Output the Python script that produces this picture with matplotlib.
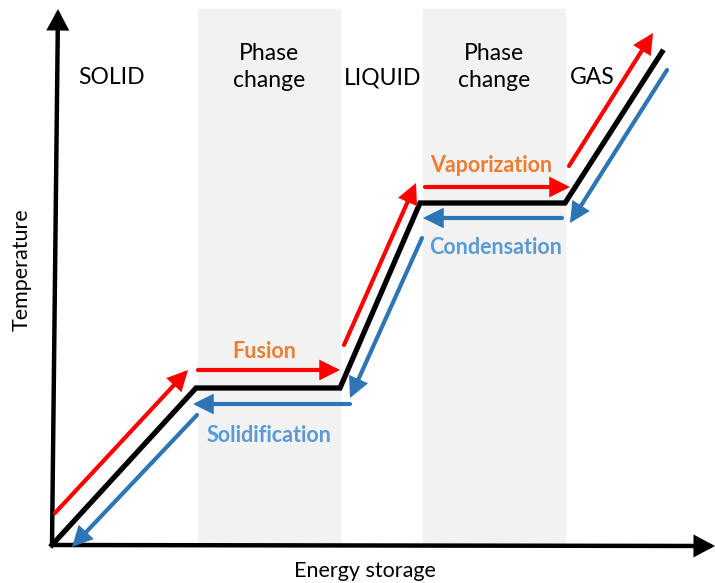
import matplotlib

matplotlib.use("Agg")
import matplotlib.pyplot as plt

# energy / temperature coordinates of the heating curve (arbitrary units)
curve_e = [0, 144, 288, 368, 513, 610]
curve_t = [0, 157, 157, 342, 342, 493]

# phase change bands (energy ranges)
bands = [(146, 288), (371, 513)]

# heating arrows (red) and cooling arrows (blue): (e0, t0, e1, t1)
heat_arrows = [
    (3, 32, 136, 175),
    (146, 175, 288, 175),
    (292, 200, 364, 362),
    (373, 358, 518, 358),
    (517, 379, 601, 512),
]
cool_arrows = [
    (615, 475, 518, 322),
    (510, 327, 371, 327),
    (370, 307, 298, 147),
    (298, 141, 141, 141),
    (145, 130, 20, -2),
]

phase_labels = ["SOLID", "Phase\nchange", "LIQUID", "Phase\nchange", "GAS"]
phase_label_e = [60, 217, 331, 442, 540]
phase_label_t = [467, 478, 467, 478, 467]
heat_labels = ["Fusion", "Vaporization"]
heat_label_pos = [(212, 193), (439, 380)]
cool_labels = ["Solidification", "Condensation"]
cool_label_pos = [(217, 110), (444, 297)]

RED = "#FF0000"
BLUE = "#2E75B6"
ORANGE = "#ED7D31"
LIGHTBLUE = "#5B9BD5"

plt.rcParams["font.family"] = ["Lato", "DejaVu Sans"]

fig = plt.figure(figsize=(7.15, 5.83), dpi=100)
ax = fig.add_axes([0, 0, 1, 1])
ax.set_xlim(-52, 663)
ax.set_ylim(-38, 545)
ax.axis("off")

for e0, e1 in bands:
    ax.axvspan(e0, e1, ymin=(0 + 38) / 583, ymax=(536 + 38) / 583, color="#F2F2F2", zorder=0)


def arrow(x0, y0, x1, y1, color, lw, hl=0.72, hw=0.36, ms=14):
    ax.annotate("", xy=(x1, y1), xytext=(x0, y0),
                arrowprops=dict(arrowstyle=f"-|>,head_length={hl},head_width={hw}",
                                color=color, lw=lw, shrinkA=0, shrinkB=0,
                                mutation_scale=ms, joinstyle="miter"))


# axes
arrow(0, 0, 6, 536, "black", 3.2, hl=0.75, hw=0.4)
arrow(0, 0, 663, -1, "black", 3.2, hl=0.75, hw=0.4)

ax.plot(curve_e, curve_t, color="black", lw=3.8, solid_joinstyle="miter", zorder=3)

for e0, t0, e1, t1 in heat_arrows:
    arrow(e0, t0, e1, t1, RED, 3.0)
for e0, t0, e1, t1 in cool_arrows:
    arrow(e0, t0, e1, t1, BLUE, 3.0)

for lab, e, t in zip(phase_labels, phase_label_e, phase_label_t):
    ax.text(e, t, lab, ha="center", va="center", fontsize=16.5, color="black", linespacing=1.35)

for lab, (e, t) in zip(heat_labels, heat_label_pos):
    ax.text(e, t, lab, ha="center", va="center", fontsize=15.5, fontweight="bold", color=ORANGE)
for lab, (e, t) in zip(cool_labels, cool_label_pos):
    ax.text(e, t, lab, ha="center", va="center", fontsize=15.5, fontweight="bold", color=LIGHTBLUE)

ax.text(-30, 275, "Temperature", rotation=90, ha="center", va="center", fontsize=15.5)
ax.text(313, -26, "Energy storage", ha="center", va="center", fontsize=15.5)

fig.savefig("out.png", dpi=100)
